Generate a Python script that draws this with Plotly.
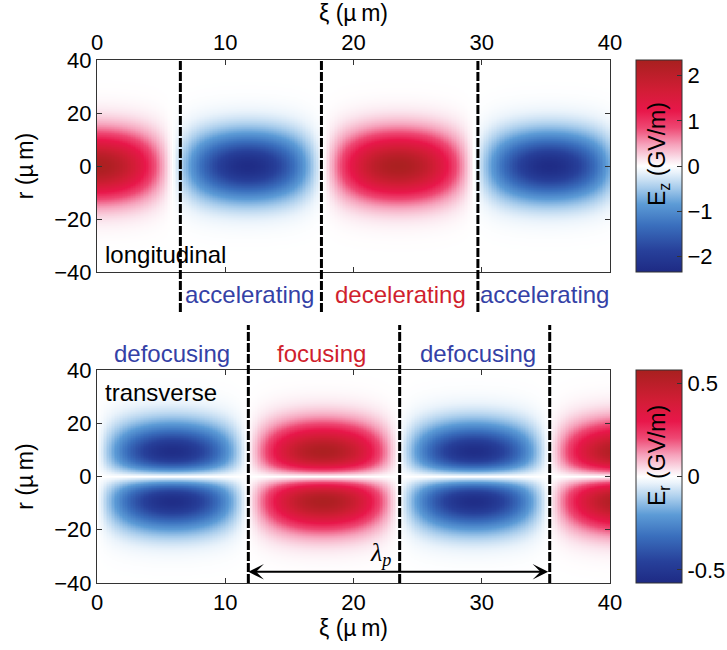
import numpy as np
import plotly.graph_objects as go

# ---- wake parameters (µm, GV/m) ----
lambda_p = 23.5          # plasma wavelength
sigma_z = 12.5           # radial width of the longitudinal field
sigma_r = 13.3           # radial width of the transverse field
Ez_peak = 2.3            # peak accelerating field
Er_peak = 0.55           # peak transverse field
Ez_range = 2.35          # colour range of Ez
Er_range = 0.57          # colour range of Er

# ---- grid ----
xi = np.linspace(0, 40, 321)
r = np.linspace(-40, 40, 321)
XI, R = np.meshgrid(xi, r)
k_p = 2 * np.pi / lambda_p

# longitudinal field: cos-like wake with gaussian radial envelope
Ez = Ez_peak * np.cos(k_p * XI) * np.exp(-R**2 / sigma_z**2)
# transverse field, shown with the same sign on both sides of the axis
Er = (-Er_peak * np.sin(k_p * XI) * (np.abs(R) / sigma_r)
      * np.exp(-R**2 / sigma_r**2) * np.sqrt(2 * np.e))

# ---- region boundaries and labels ----
top_bounds = [6.5, 17.5, 29.7]
bottom_bounds = [11.8, 23.6, 35.3]
top_labels = ["accelerating", "decelerating", "accelerating"]
top_label_xi = [11.9, 23.7, 34.9]
bottom_labels = ["defocusing", "focusing", "defocusing"]
bottom_label_xi = [5.85, 17.5, 29.7]
blue_txt = "#3441a6"
red_txt = "#d01f2e"
top_colors = [blue_txt, red_txt, blue_txt]
bottom_colors = [blue_txt, red_txt, blue_txt]

xi_ticks = [0, 10, 20, 30, 40]
r_ticks = [-40, -20, 0, 20, 40]
ez_ticks = [-2, -1, 0, 1, 2]
er_ticks = [-0.5, 0, 0.5]
er_ticktext = ["-0.5", "0", "0.5"]

cmap = [
    [0.00, "#1e2a84"],
    [0.10, "#27409a"],
    [0.22, "#3a6fbd"],
    [0.32, "#5c9bd6"],
    [0.40, "#a9cdec"],
    [0.47, "#eaf3fb"],
    [0.50, "#ffffff"],
    [0.53, "#fbe6ee"],
    [0.60, "#f6a3bc"],
    [0.68, "#ee4873"],
    [0.76, "#e8174a"],
    [0.86, "#d11d35"],
    [1.00, "#a8201f"],
]

FONT = "Arial, Liberation Sans, sans-serif"
FS_TICK = 22
FS_TITLE = 23
FS_TEXT = 24
W, H = 727, 650
ml, mr, mt, mb = 97, 117, 60, 67
pw, ph = W - ml - mr, H - mt - mb

XI_TITLE = "ξ (µ\u2009m)"
R_TITLE = "r (µ\u2009m)"


def py2paper(py):
    return (H - mb - py) / ph


def px2paper(px):
    return (px - ml) / pw


top_dom = [py2paper(272), 1.0]
bot_dom = [0.0, py2paper(370)]

cb_common = dict(
    thicknessmode="pixels", thickness=46, lenmode="fraction",
    xanchor="left", x=px2paper(636), xpad=0, ypad=0, yanchor="top",
    outlinecolor="#333", outlinewidth=1, ticks="inside", ticklen=5,
    tickcolor="#333", tickfont=dict(family=FONT, size=FS_TICK, color="black"),
)

fig = go.Figure()
fig.add_trace(go.Heatmap(
    x=xi, y=r, z=Ez, xaxis="x", yaxis="y", colorscale=cmap,
    zmin=-Ez_range, zmax=Ez_range,
    colorbar=dict(cb_common, y=top_dom[1], len=top_dom[1] - top_dom[0],
                  tickvals=ez_ticks),
))
fig.add_trace(go.Heatmap(
    x=xi, y=r, z=Er, xaxis="x2", yaxis="y2", colorscale=cmap,
    zmin=-Er_range, zmax=Er_range,
    colorbar=dict(cb_common, y=bot_dom[1], len=bot_dom[1] - bot_dom[0],
                  tickvals=er_ticks, ticktext=er_ticktext),
))

ax_common = dict(
    showgrid=False, zeroline=False, showline=True, linecolor="#333",
    linewidth=1, mirror="ticks", ticks="inside", ticklen=5, tickcolor="#333",
    tickfont=dict(family=FONT, size=FS_TICK, color="black"),
    title_font=dict(family=FONT, size=FS_TITLE, color="black"),
)

fig.update_layout(
    width=W, height=H,
    margin=dict(l=ml, r=mr, t=mt, b=mb, autoexpand=False),
    paper_bgcolor="white", plot_bgcolor="white", showlegend=False,
    xaxis=dict(ax_common, domain=[0, 1], range=[0, 40], anchor="y",
               side="top", tickvals=xi_ticks,
               title=dict(text=XI_TITLE, standoff=6)),
    yaxis=dict(ax_common, domain=top_dom, range=[-40, 40], anchor="x",
               tickvals=r_ticks, title=dict(text=R_TITLE, standoff=14)),
    xaxis2=dict(ax_common, domain=[0, 1], range=[0, 40], anchor="y2",
                side="bottom", tickvals=xi_ticks,
                title=dict(text=XI_TITLE, standoff=2)),
    yaxis2=dict(ax_common, domain=bot_dom, range=[-40, 40], anchor="x2",
                tickvals=r_ticks, title=dict(text=R_TITLE, standoff=14)),
)

dash_line = dict(color="black", width=3, dash="9px,2px")
for b in top_bounds:
    fig.add_shape(type="line", xref="x", yref="paper", x0=b, x1=b,
                  y0=py2paper(312), y1=1.0, line=dash_line, layer="above")
for b in bottom_bounds:
    fig.add_shape(type="line", xref="x2", yref="paper", x0=b, x1=b,
                  y0=0.0, y1=py2paper(325), line=dash_line, layer="above")

ann = []
for t, xv, c in zip(top_labels, top_label_xi, top_colors):
    ann.append(dict(text=t, x=xv, xref="x", y=py2paper(294), yref="paper",
                    yanchor="middle", showarrow=False,
                    font=dict(family=FONT, size=FS_TEXT, color=c)))
for t, xv, c in zip(bottom_labels, bottom_label_xi, bottom_colors):
    ann.append(dict(text=t, x=xv, xref="x2", y=py2paper(353), yref="paper",
                    yanchor="middle", showarrow=False,
                    font=dict(family=FONT, size=FS_TEXT, color=c)))

ann.append(dict(text="longitudinal", x=0.5, xref="x", y=-33.5, yref="y",
                xanchor="left", yanchor="middle", showarrow=False,
                font=dict(family=FONT, size=FS_TEXT, color="black")))
ann.append(dict(text="transverse", x=0.5, xref="x2", y=31.5, yref="y2",
                xanchor="left", yanchor="middle", showarrow=False,
                font=dict(family=FONT, size=FS_TEXT, color="black")))

# plasma wavelength arrow
ann.append(dict(text="", x=bottom_bounds[0], y=-35.8, xref="x2", yref="y2",
                ax=bottom_bounds[2], ay=-35.8, axref="x2", ayref="y2",
                showarrow=True, arrowside="end+start", arrowhead=3,
                startarrowhead=3, arrowsize=1.3, startarrowsize=1.3,
                arrowwidth=2, arrowcolor="black", standoff=0, startstandoff=0))
ann.append(dict(text="<i>λ<sub>p</sub></i>", x=23.1, y=-29, xref="x2",
                yref="y2", xanchor="right", yanchor="middle", showarrow=False,
                font=dict(family="Liberation Serif, serif", size=26,
                          color="black")))

# colour bar titles drawn over the bars
ann.append(dict(text="E<sub>z</sub> (GV/m)", x=px2paper(659), y=py2paper(154),
                xref="paper", yref="paper", xanchor="center",
                yanchor="middle", textangle=-90, showarrow=False,
                font=dict(family=FONT, size=FS_TITLE, color="black")))
ann.append(dict(text="E<sub>r</sub> (GV/m)", x=px2paper(659), y=py2paper(456),
                xref="paper", yref="paper", xanchor="center",
                yanchor="middle", textangle=-90, showarrow=False,
                font=dict(family=FONT, size=FS_TITLE, color="black")))

fig.update_layout(annotations=ann)
fig.write_html("out.html")
